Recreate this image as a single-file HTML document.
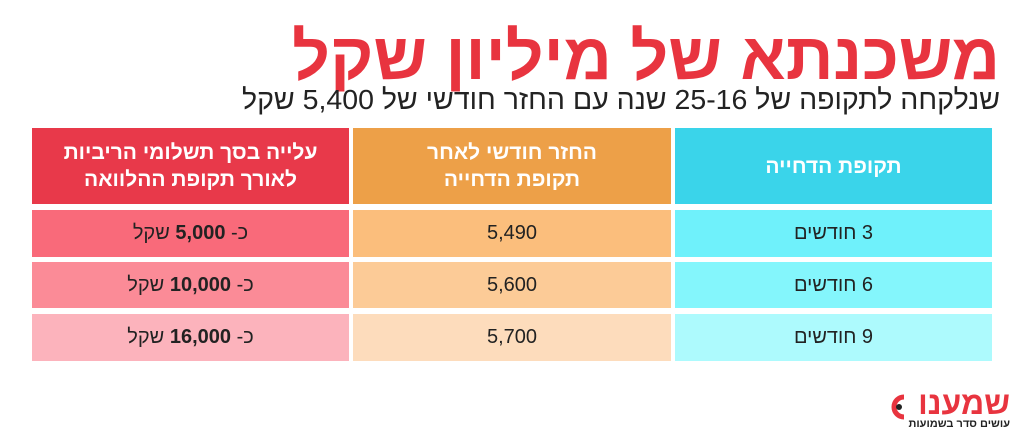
<!DOCTYPE html>
<html lang="he"><head><meta charset="utf-8">
<style>
html,body{margin:0;padding:0;background:#fff;}
body{width:1024px;height:434px;position:relative;overflow:hidden;font-family:"Liberation Sans","DejaVu Sans",sans-serif;}
.fit{position:absolute;white-space:nowrap;direction:rtl;transform-origin:right top;}
#title{right:24px;top:20px;font-size:66px;font-weight:bold;color:#e8343f;line-height:72px;}
#sub{right:24px;top:84px;font-size:28px;color:#222;line-height:32px;}
.cell{position:absolute;display:flex;align-items:center;justify-content:center;text-align:center;direction:rtl;color:#222;font-size:20px;}
.hd{color:#fff;font-size:21px;line-height:27px;font-weight:bold;}
.logo{position:absolute;direction:rtl;}
</style></head><body>
<div id="title" class="fit">משכנתא של מיליון שקל</div>
<div id="sub" class="fit">שנלקחה לתקופה של 25-16 שנה עם החזר חודשי של 5,400 שקל</div>

<div class="cell hd" style="left:675px;top:128px;width:317px;height:76px;background:#3ad4ea;">תקופת הדחייה</div>
<div class="cell hd" style="left:353px;top:128px;width:318px;height:76px;background:#eda048;">החזר חודשי לאחר<br>תקופת הדחייה</div>
<div class="cell hd" style="left:32px;top:128px;width:317px;height:76px;background:#e8394a;">עלייה בסך תשלומי הריביות<br>לאורך תקופת ההלוואה</div>

<div class="cell" style="left:675px;top:210px;width:317px;height:47px;background:#6ff1fb;">3 חודשים</div>
<div class="cell" style="left:675px;top:262px;width:317px;height:46px;background:#84f6fc;">6 חודשים</div>
<div class="cell" style="left:675px;top:314px;width:317px;height:47px;background:#adfafd;">9 חודשים</div>

<div class="cell" style="left:353px;top:210px;width:318px;height:47px;background:#fbbe7c;">5,490</div>
<div class="cell" style="left:353px;top:262px;width:318px;height:46px;background:#fccb97;">5,600</div>
<div class="cell" style="left:353px;top:314px;width:318px;height:47px;background:#fddcbc;">5,700</div>

<div class="cell" style="left:32px;top:210px;width:317px;height:47px;background:#f96a7a;">כ- <b>&nbsp;5,000&nbsp;</b> שקל</div>
<div class="cell" style="left:32px;top:262px;width:317px;height:46px;background:#fb8b97;">כ- <b>&nbsp;10,000&nbsp;</b> שקל</div>
<div class="cell" style="left:32px;top:314px;width:317px;height:47px;background:#fcb3bc;">כ- <b>&nbsp;16,000&nbsp;</b> שקל</div>

<div class="logo" style="left:886px;top:388px;width:128px;height:44px;">
  <svg width="22" height="28" style="position:absolute;left:0;top:5px"><path d="M18 4 A10 10 0 1 0 18 24" fill="none" stroke="#e8343f" stroke-width="5"/><circle cx="13" cy="14" r="3" fill="#222"/></svg>
  <div style="position:absolute;right:4px;top:-2px;font-size:32px;font-weight:bold;color:#e8343f;line-height:34px;">שמענו</div>
  <div style="position:absolute;right:4px;top:30px;font-size:11px;font-weight:bold;color:#222;line-height:12px;">עושים סדר בשמועות</div>
</div>
<script>
function fit(id,w){var e=document.getElementById(id);var r=e.scrollWidth;e.style.transform='scaleX('+(w/r)+')';}
fit('title',708);fit('sub',758);
</script>
</body></html>
